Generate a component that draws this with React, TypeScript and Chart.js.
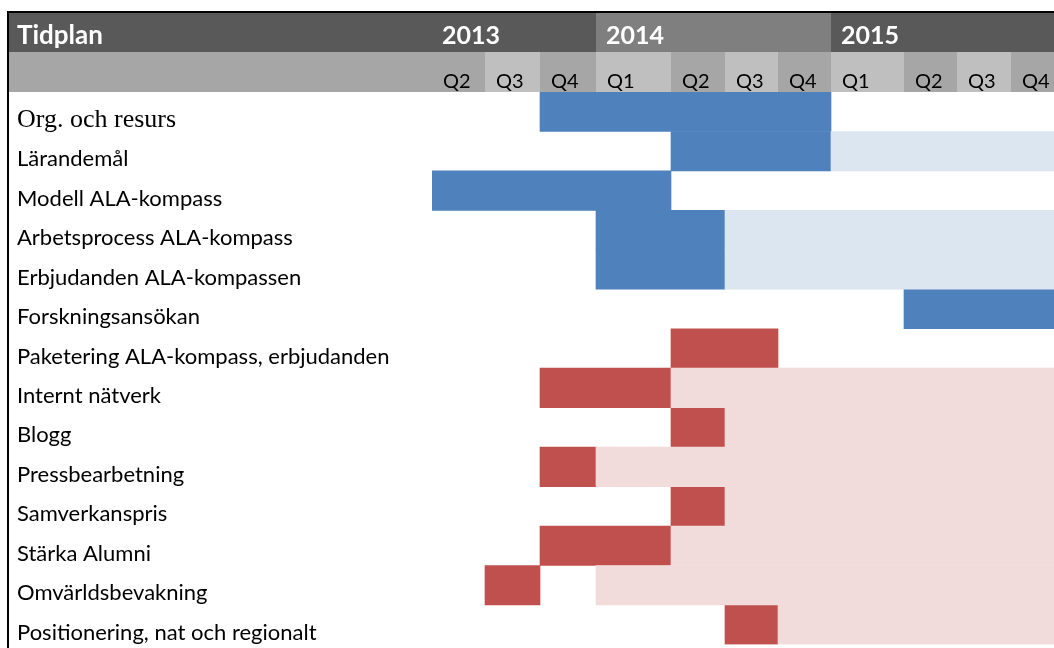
import React, { useEffect, useRef } from 'react';
import { Chart, registerables } from 'chart.js';

Chart.register(...registerables);

// ---------- data ----------
const tasks = [
  'Org. och resurs',
  'Lärandemål',
  'Modell ALA-kompass',
  'Arbetsprocess ALA-kompass',
  'Erbjudanden ALA-kompassen',
  'Forskningsansökan',
  'Paketering ALA-kompass, erbjudanden',
  'Internt nätverk',
  'Blogg',
  'Pressbearbetning',
  'Samverkanspris',
  'Stärka Alumni',
  'Omvärldsbevakning',
  'Positionering, nat och regionalt',
];

const titleLabel = 'Tidplan';
const years = ['2013', '2014', '2015'];
const yearFirstQuarter = [0, 3, 7]; // index of each year's first quarter column
const quarterLabels = ['Q2', 'Q3', 'Q4', 'Q1', 'Q2', 'Q3', 'Q4', 'Q1', 'Q2', 'Q3', 'Q4'];

// spans in quarter-column indices [start, end)
const blueActive: (number[] | null)[] = [
  [2, 7], [4, 7], [0, 4], [3, 5], [3, 5], [8, 11],
  null, null, null, null, null, null, null, null,
];
const blueLater: (number[] | null)[] = [
  null, [7, 11], null, [5, 11], [5, 11], null,
  null, null, null, null, null, null, null, null,
];
const redActive: (number[] | null)[] = [
  null, null, null, null, null, null,
  [4, 6], [2, 4], [4, 5], [2, 3], [4, 5], [2, 4], [1, 2], [5, 6],
];
const redLater: (number[] | null)[] = [
  null, null, null, null, null, null,
  null, [4, 11], [5, 11], [3, 11], [5, 11], [4, 11], [3, 11], [6, 11],
];

// ---------- layout / style ----------
const columnWidths = [53, 55, 56, 75, 54, 53, 53, 73, 53, 54, 54];
const edges: number[] = [0];
columnWidths.forEach((w, i) => edges.push(edges[i] + w));

const yearBandColors = ['#595959', '#7F7F7F', '#595959'];
const quarterColors = ['#A6A6A6', '#BFBFBF'];
const labelBandColor = '#A6A6A6';
const BLUE = '#4F81BD';
const BLUE_LIGHT = '#DCE6F1';
const RED = '#C0504D';
const RED_LIGHT = '#F2DCDB';
const SANS = 'Lato';

const toSpans = (arr: (number[] | null)[]) =>
  arr.map((s) => (s ? [edges[s[0]], edges[s[1]]] : null));

const headerPlugin = {
  id: 'ganttHeader',
  beforeDraw(chart: any) {
    const { ctx, chartArea } = chart;
    const x = chart.scales.x;
    const px = (q: number) => x.getPixelForValue(edges[q]);
    const top = chartArea.top;
    const qTop = top - 40;
    const yTop = top - 79;
    const left = 8;
    const right = px(quarterLabels.length);
    ctx.save();
    // year band
    ctx.fillStyle = yearBandColors[0];
    ctx.fillRect(left, yTop, px(0) - left, 39);
    years.forEach((_, i) => {
      const s = px(yearFirstQuarter[i]);
      const e = i + 1 < years.length ? px(yearFirstQuarter[i + 1]) : right;
      ctx.fillStyle = yearBandColors[i];
      ctx.fillRect(s, yTop, e - s, 39);
    });
    // quarter band
    ctx.fillStyle = labelBandColor;
    ctx.fillRect(left, qTop, px(0) - left, 40);
    quarterLabels.forEach((_, q) => {
      ctx.fillStyle = quarterColors[q % 2];
      ctx.fillRect(px(q), qTop, px(q + 1) - px(q), 40);
    });
    // texts
    ctx.textBaseline = 'alphabetic';
    ctx.textAlign = 'left';
    ctx.fillStyle = '#FFFFFF';
    ctx.font = `bold 26px ${SANS}`;
    ctx.fillText(titleLabel, 17, yTop + 31);
    ctx.font = `bold 25px ${SANS}`;
    years.forEach((yl, i) => ctx.fillText(yl, px(yearFirstQuarter[i]) + 10, yTop + 31));
    ctx.fillStyle = '#000000';
    ctx.font = `20px ${SANS}`;
    quarterLabels.forEach((ql, q) => ctx.fillText(ql, px(q) + 11, qTop + 36));
    ctx.restore();
  },
  afterDraw(chart: any) {
    const { ctx, chartArea } = chart;
    ctx.save();
    ctx.fillStyle = '#000000';
    ctx.fillRect(7, chartArea.top - 81, chart.width, 2);
    ctx.fillRect(7, chartArea.top - 81, 2, chart.height);
    ctx.restore();
  },
};

export default function App() {
  const ref = useRef<HTMLCanvasElement>(null);

  useEffect(() => {
    if (!ref.current) return;
    const common = {
      grouped: false,
      barPercentage: 1,
      categoryPercentage: 1,
      borderWidth: 0,
      borderSkipped: false,
    };
    const chart = new Chart(ref.current, {
      type: 'bar',
      data: {
        labels: tasks,
        datasets: [
          { label: 'blueLater', data: toSpans(blueLater), backgroundColor: BLUE_LIGHT, ...common },
          { label: 'redLater', data: toSpans(redLater), backgroundColor: RED_LIGHT, ...common },
          { label: 'blue', data: toSpans(blueActive), backgroundColor: BLUE, ...common },
          { label: 'red', data: toSpans(redActive), backgroundColor: RED, ...common },
        ] as any,
      },
      options: {
        indexAxis: 'y',
        animation: false,
        responsive: false,
        devicePixelRatio: 1,
        layout: { padding: { left: 17, top: 92, right: 5, bottom: 8 } },
        plugins: { legend: { display: false }, tooltip: { enabled: false } },
        scales: {
          x: {
            type: 'linear',
            display: false,
            min: 0,
            max: edges[edges.length - 1],
          },
          y: {
            type: 'category',
            grid: { display: false },
            border: { display: false },
            afterFit: (scale: any) => {
              scale.width = 415;
            },
            ticks: {
              autoSkip: false,
              crossAlign: 'far',
              padding: 0,
              labelOffset: 8,
              color: '#000000',
              font: (c: any) =>
                c.index === 0
                  ? { family: 'Liberation Serif', size: 26 }
                  : { family: SANS, size: 22 },
            },
          },
        },
      } as any,
      plugins: [headerPlugin],
    });
    return () => chart.destroy();
  }, []);

  return (
    <div
      style={{
        position: 'fixed',
        left: 0,
        top: 0,
        width: 1054,
        height: 648,
        overflow: 'hidden',
        background: '#FFFFFF',
      }}
    >
      <canvas ref={ref} width={1070} height={660} style={{ display: 'block', width: 1070, height: 660 }} />
    </div>
  );
}
